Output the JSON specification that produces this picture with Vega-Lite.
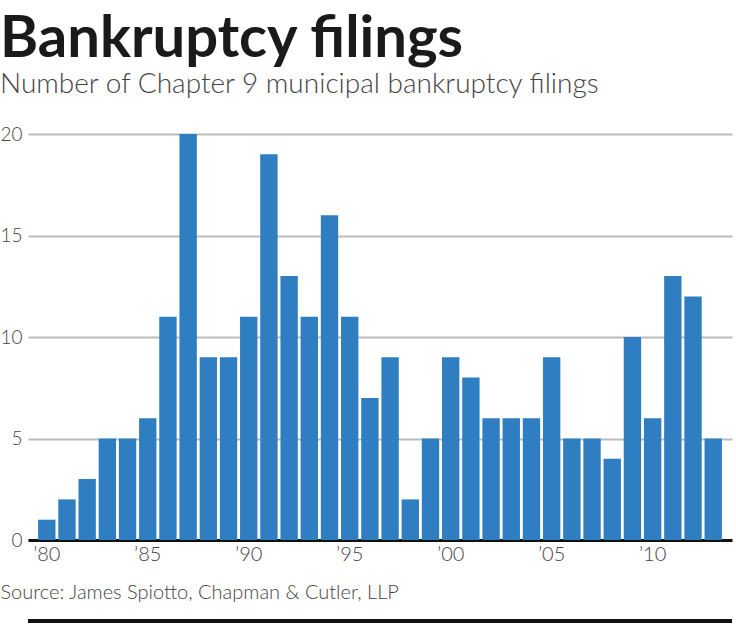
{
  "$schema": "https://vega.github.io/schema/vega-lite/v6.json",
  "width": 704,
  "height": 406,
  "autosize": "none",
  "padding": {"left": 28, "top": 134, "right": 4, "bottom": 90},
  "background": "white",
  "title": {
    "text": "Bankruptcy filings",
    "subtitle": "Number of Chapter 9 municipal bankruptcy filings",
    "anchor": "start",
    "frame": "group",
    "dx": -28,
    "offset": 26,
    "font": "Lato",
    "fontSize": 58,
    "fontWeight": "bold",
    "color": "#1a1a1a",
    "subtitleFont": "Lato",
    "subtitleFontSize": 28,
    "subtitleFontWeight": 300,
    "subtitleColor": "#444444",
    "subtitlePadding": 2
  },
  "data": {
    "values": [
      {"year": 1980, "filings": 1},
      {"year": 1981, "filings": 2},
      {"year": 1982, "filings": 3},
      {"year": 1983, "filings": 5},
      {"year": 1984, "filings": 5},
      {"year": 1985, "filings": 6},
      {"year": 1986, "filings": 11},
      {"year": 1987, "filings": 20},
      {"year": 1988, "filings": 9},
      {"year": 1989, "filings": 9},
      {"year": 1990, "filings": 11},
      {"year": 1991, "filings": 19},
      {"year": 1992, "filings": 13},
      {"year": 1993, "filings": 11},
      {"year": 1994, "filings": 16},
      {"year": 1995, "filings": 11},
      {"year": 1996, "filings": 7},
      {"year": 1997, "filings": 9},
      {"year": 1998, "filings": 2},
      {"year": 1999, "filings": 5},
      {"year": 2000, "filings": 9},
      {"year": 2001, "filings": 8},
      {"year": 2002, "filings": 6},
      {"year": 2003, "filings": 6},
      {"year": 2004, "filings": 6},
      {"year": 2005, "filings": 9},
      {"year": 2006, "filings": 5},
      {"year": 2007, "filings": 5},
      {"year": 2008, "filings": 4},
      {"year": 2009, "filings": 10},
      {"year": 2010, "filings": 6},
      {"year": 2011, "filings": 13},
      {"year": 2012, "filings": 12},
      {"year": 2013, "filings": 5}
    ]
  },
  "layer": [
    {
      "mark": {"type": "bar", "color": "#2f7ec1"},
      "encoding": {
        "x": {
          "field": "year",
          "type": "ordinal",
          "scale": {"paddingInner": 0.14, "paddingOuter": 0.5},
          "axis": {
            "title": "Source: James Spiotto, Chapman & Cutler, LLP",
            "titleAnchor": "start",
            "titleAlign": "left",
            "titleX": -28,
            "titleY": 42,
            "titleFont": "Lato",
            "titleFontSize": 20,
            "titleFontWeight": 300,
            "titleColor": "#444444",
            "labelAngle": 0,
            "labelFont": "Lato",
            "labelFontSize": 20,
            "labelFontWeight": 300,
            "labelColor": "#444444",
            "labelPadding": 4,
            "labelExpr": "datum.value % 5 == 0 ? '\u2019' + substring(toString(datum.value), 2, 4) : ''",
            "ticks": false,
            "domain": true,
            "domainColor": "#111111",
            "domainWidth": 3,
            "grid": false
          }
        },
        "y": {
          "field": "filings",
          "type": "quantitative",
          "scale": {"domain": [0, 20], "nice": false},
          "axis": {
            "title": null,
            "values": [0, 5, 10, 15, 20],
            "labelFont": "Lato",
            "labelFontSize": 19,
            "labelFontWeight": 300,
            "labelColor": "#444444",
            "labelPadding": 6,
            "ticks": false,
            "domain": false,
            "grid": true,
            "gridColor": "#bbbbbb",
            "gridWidth": 2
          }
        }
      }
    },
    {
      "mark": {"type": "rule", "color": "#111111", "strokeWidth": 3, "clip": false},
      "encoding": {
        "y": {"datum": -4, "type": "quantitative"}
      }
    }
  ],
  "config": {"view": {"stroke": null}}
}
